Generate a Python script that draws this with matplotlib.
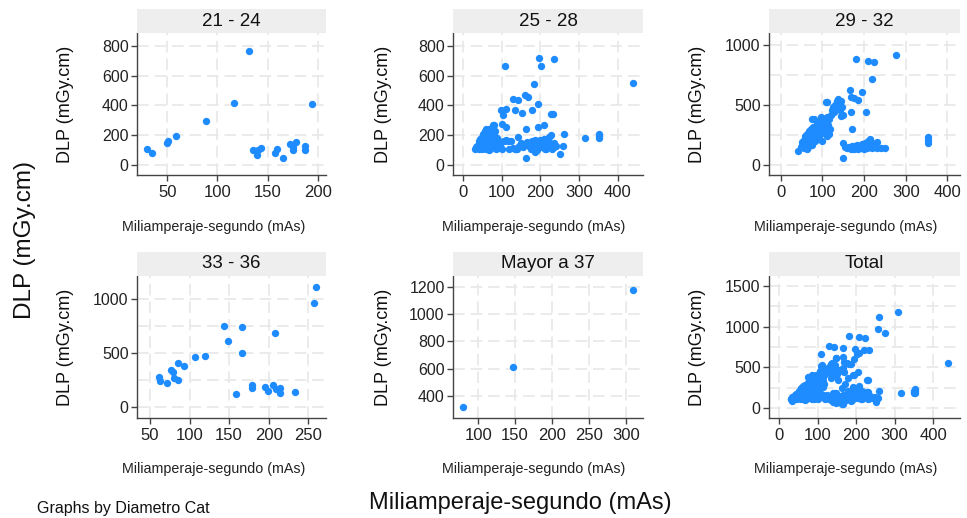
import matplotlib
matplotlib.use("Agg")
import matplotlib.pyplot as plt
import numpy as np
from matplotlib.ticker import FixedLocator

plt.rcParams["font.family"] = ["Liberation Sans", "DejaVu Sans"]

W, H = 967, 518

# Data: mAs (x) vs DLP (y) per diameter group
mas_21_24 = [30, 35, 50, 51, 59, 89, 116, 131, 135, 139, 140, 143, 157, 159, 165,
             172, 175, 178, 175, 187, 187, 194]
dlp_21_24 = [111, 82, 145, 160, 198, 293, 415, 767, 100, 69, 100, 116, 78, 111, 49,
             140, 100, 156, 122, 129, 100, 407]

mas_25_28 = [109, 197, 234, 202, 183, 128, 141, 159, 167, 193, 98, 110, 103, 134, 153,
             178, 228, 232, 101, 110, 79, 163, 193, 208, 141, 115, 260, 228, 163, 251,
             187, 258, 236, 215, 137, 440, 316, 351, 351, 351,
             30, 33, 35, 38, 40, 42, 45, 45, 48, 50, 50, 52, 55, 55, 57, 58, 60, 60,
             62, 63, 65, 65, 67, 68, 70, 70, 72, 74, 75, 76, 78, 80, 80, 82, 85, 85,
             88, 90, 92, 95, 100, 58, 48, 40, 68,
             130, 135, 140, 145, 150, 155, 160, 165, 170, 175, 178, 180, 183, 185, 188,
             190, 192, 195, 198, 200, 203, 205, 208, 210, 212, 215, 218, 220, 222, 225,
             228, 230, 232, 235, 240, 125, 120, 112, 105]
dlp_25_28 = [662, 722, 711, 665, 545, 445, 438, 471, 460, 411, 367, 378, 333, 367, 349,
             373, 345, 340, 273, 255, 267, 245, 255, 267, 185, 162, 211, 200, 44, 72,
             89, 128, 122, 111, 111, 549, 182, 207, 182, 195,
             110, 120, 130, 115, 140, 160, 125, 175, 150, 190, 135, 210, 170, 120, 230,
             195, 150, 245, 180, 220, 130, 200, 160, 240, 185, 110, 210, 140, 170, 250,
             270, 200, 120, 230, 150, 105, 180, 115, 160, 125, 110, 105, 110, 105, 100,
             115, 110, 105, 130, 150, 120, 140, 155, 130, 110, 160, 145, 125, 165, 140,
             100, 155, 135, 170, 150, 120, 160, 140, 175, 105, 150, 130, 165, 185, 140,
             120, 110, 130, 150, 125, 160, 105, 165, 160]

mas_29_32 = [181, 209, 224, 220, 166, 194, 168, 176, 186, 169, 204, 172, 149, 149, 109,
             136, 140, 142, 145, 41, 354, 354, 354, 276, 250, 230, 240,
             48, 50, 52, 55, 57, 58, 60, 62, 63, 65, 66, 68, 70, 70, 72, 73, 75, 75,
             77, 78, 80, 80, 82, 83, 85, 86, 88, 90, 92, 93, 95, 96, 98, 100, 100, 103,
             105, 107, 108, 110, 112, 113, 115, 118, 120, 122, 125, 128, 130, 133, 135,
             137, 138, 140, 145, 147, 150, 112, 88, 62, 100, 115, 75,
             165, 168, 170, 172, 175, 178, 180, 182, 185, 188, 190, 192, 195, 198, 200,
             200, 203, 205, 207, 210, 210, 212, 215, 215, 218, 220, 222, 225, 230, 160,
             155]
dlp_29_32 = [881, 869, 856, 714, 625, 608, 569, 556, 542, 444, 444, 297, 186, 61, 522,
             536, 492, 458, 408, 119, 231, 181, 206, 917, 139, 194, 141,
             150, 190, 170, 210, 140, 240, 200, 180, 260, 230, 150, 280, 210, 250, 190,
             300, 240, 170, 270, 320, 230, 385, 290, 200, 260, 340, 310, 280, 360, 240,
             330, 400, 300, 350, 270, 380, 320, 290, 350, 240, 400, 330, 380, 300, 420,
             460, 480, 440, 500, 470, 520, 550, 490, 510, 530, 480, 420, 525, 220, 130,
             200, 260, 383,
             150, 135, 160, 140, 130, 155, 145, 170, 135, 150, 160, 140, 175, 150, 165,
             130, 185, 155, 140, 200, 170, 150, 215, 160, 185, 140, 165, 150, 140, 140,
             150]

mas_33_36 = [62, 63, 72, 77, 79, 81, 85, 85, 93, 107, 119, 143, 149, 159, 166, 166, 179,
             179, 196, 199, 206, 208, 210, 214, 215, 233, 257, 260]
dlp_33_36 = [275, 244, 219, 343, 327, 266, 410, 252, 380, 460, 472, 750, 611, 120, 741,
             497, 204, 178, 188, 152, 204, 682, 164, 133, 178, 139, 966, 1114]

mas_37 = [79, 147, 310]
dlp_37 = [320, 615, 1180]

titles = ["21 - 24", "25 - 28", "29 - 32", "33 - 36", "Mayor a 37", "Total"]
groups_x = [mas_21_24, mas_25_28, mas_29_32, mas_33_36, mas_37]
groups_y = [dlp_21_24, dlp_25_28, dlp_29_32, dlp_33_36, dlp_37]
groups_x.append(sum(groups_x, []))
groups_y.append(sum(groups_y, []))

xlims = [(20, 208), (-26, 465), (-28, 430), (33.6, 272.6), (66, 323), (-26, 470)]
ylims = [(-67, 887), (-67, 887), (-83, 1100), (-102, 1213), (238, 1281), (-123, 1623)]
xticks = [[50, 100, 150, 200], [0, 100, 200, 300, 400], [0, 100, 200, 300, 400],
          [50, 100, 150, 200, 250], [100, 150, 200, 250, 300], [0, 100, 200, 300, 400]]
yticks = [[0, 200, 400, 600, 800], [0, 200, 400, 600, 800], [0, 500, 1000],
          [0, 500, 1000], [400, 600, 800, 1000, 1200], [0, 500, 1000, 1500]]
ygrid = [None, None, [250, 750], [250, 750], None, [250, 750, 1250]]

# panel boxes in pixels
cols = [(137, 326), (453, 643), (769, 960)]
rows = [(9, 33, 175), (252, 276, 418)]
ylab_x = [65, 383, 698]
xlab_x = [214, 534, 846]
xlab_y = [227, 469]

blue = "#1e8cff"
grid_c = "#e8e8e8"
spine_c = "#444444"

fig = plt.figure(figsize=(W / 100, H / 100), dpi=100)

for i in range(6):
    r, c = divmod(i, 3)
    x0, x1 = cols[c]
    st, yt, yb = rows[r]
    ax = fig.add_axes([x0 / W, 1 - yb / H, (x1 - x0) / W, (yb - yt) / H])
    ax.scatter(groups_x[i], groups_y[i], s=28, color=blue, linewidths=0, zorder=3)
    ax.set_xlim(*xlims[i])
    ax.set_ylim(*ylims[i])
    ax.set_xticks(xticks[i])
    ax.set_yticks(yticks[i])
    if ygrid[i]:
        ax.yaxis.set_minor_locator(FixedLocator(ygrid[i]))
    ax.grid(True, which="both", color=grid_c, linestyle=(0, (7, 3.5)), linewidth=1.2)
    ax.tick_params(which="minor", length=0)
    ax.set_axisbelow(True)
    for s in ["top", "right"]:
        ax.spines[s].set_visible(False)
    for s in ["left", "bottom"]:
        ax.spines[s].set_color(spine_c)
        ax.spines[s].set_linewidth(1.0)
    ax.tick_params(axis="both", which="major", direction="out", length=4, width=1,
                   color=spine_c, labelcolor="#222222")
    ax.tick_params(axis="x", labelsize=12, pad=3)
    ax.tick_params(axis="y", labelsize=11.5, pad=2)

    # strip title
    sax = fig.add_axes([x0 / W, 1 - yt / H, (x1 - x0) / W, (yt - st) / H])
    sax.set_facecolor("#eeeeee")
    sax.set_xticks([])
    sax.set_yticks([])
    for s in sax.spines.values():
        s.set_visible(False)
    sax.text(0.5, 0.5, titles[i], ha="center", va="center", fontsize=13.5,
             color="#111111", transform=sax.transAxes)

    fig.text(ylab_x[c] / W, 1 - (yt + yb) / 2 / H, "DLP (mGy.cm)", rotation=90,
             ha="center", va="center", fontsize=13, color="#111111")
    fig.text(xlab_x[c] / W, 1 - xlab_y[r] / H, "Miliamperaje-segundo (mAs)",
             ha="center", va="center", fontsize=10.3, color="#222222")

fig.text(25 / W, 1 - 240 / H, "DLP (mGy.cm)", rotation=90, ha="center", va="center",
         fontsize=17.5, color="#111111")
fig.text(520 / W, 1 - 503 / H, "Miliamperaje-segundo (mAs)", ha="center", va="center",
         fontsize=17, color="#111111")
fig.text(37 / W, 1 - 516 / H, "Graphs by Diametro Cat", ha="left", va="bottom",
         fontsize=11.5, color="#111111")

fig.savefig("out.png", dpi=100)
